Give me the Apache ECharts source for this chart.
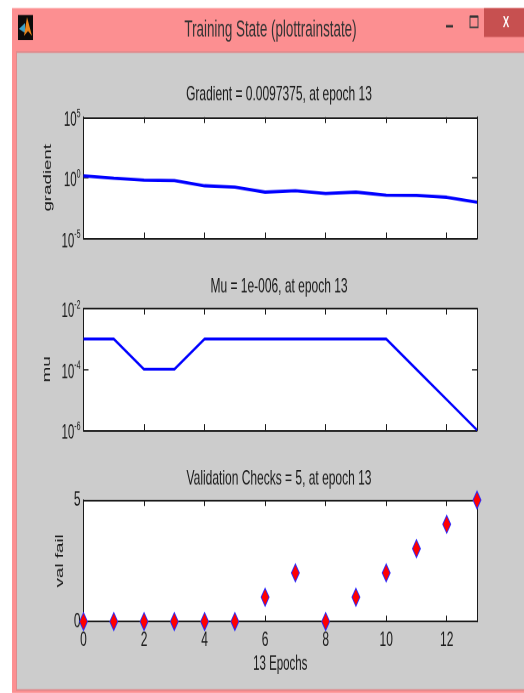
<!DOCTYPE html>
<html><head><meta charset="utf-8">
<style>html,body{margin:0;padding:0;background:#fff;overflow:hidden;width:524px;height:693px}
#c{width:524px;height:407.65px;transform:scaleY(1.7);transform-origin:0 0}</style>
<script src="https://cdn.jsdelivr.net/npm/echarts@6/dist/echarts.min.js"></script></head>
<body><div id="c"></div>
<script>
const epochs = [0,1,2,3,4,5,6,7,8,9,10,11,12,13];
const gradient = [1.45,0.93,0.65,0.6,0.22,0.17,0.066,0.085,0.051,0.066,0.037,0.035,0.025,0.0097375];
const mu = [1e-3,1e-3,1e-4,1e-4,1e-3,1e-3,1e-3,1e-3,1e-3,1e-3,1e-3,1e-4,1e-5,1e-6];
const valFail = [0,0,0,0,0,0,1,2,0,1,2,3,4,5];
const xTickLabels = [0,2,4,6,8,10,12];
const titles = ['Gradient = 0.0097375, at epoch 13','Mu = 1e-006, at epoch 13','Validation Checks = 5, at epoch 13'];
const yNames = ['gradient','mu','val fail'];
const windowTitle = 'Training State (plottrainstate)';
const xName = '13 Epochs';

const k = 1.7, Y = v => v / k;
const fam = '"Liberation Sans",Arial,sans-serif';
const dark = '#1a1a1a';
const tops = [117,308.5,500];
const h = Y(121.5), left = 83.5, w = 393.5;
const chart = echarts.init(document.getElementById('c'),null,{renderer:'canvas',devicePixelRatio:2});
const pair = v => epochs.map((e,i)=>[e,v[i]]);
const tickStyle = {show:true,inside:true,length:3.5,lineStyle:{color:dark,width:1}};
const ySideTick = {show:true,inside:true,length:5,lineStyle:{color:dark,width:0.8}};
const lineStyle = {show:true,onZero:false,lineStyle:{color:dark,width:1}};
const grids=[],xAxes=[],yAxes=[],series=[];
tops.forEach((t,i)=>{
  grids.push({left,top:Y(t),width:w,height:h,show:true,backgroundColor:'#fff',borderWidth:0});
  const last=i===2;
  xAxes.push({gridIndex:i,type:'value',min:0,max:13,interval:2,position:'bottom',splitLine:{show:false},axisLine:lineStyle,axisTick:tickStyle,
    name:last?xName:'',nameLocation:'middle',nameGap:25,nameMoveOverlap:false,nameTextStyle:{fontFamily:fam,fontSize:11.5,color:dark,verticalAlign:'middle'},
    axisLabel:{show:last,margin:5,fontFamily:fam,fontSize:12,color:dark,formatter:v=>xTickLabels.includes(v)?String(v):''}});
  xAxes.push({gridIndex:i,type:'value',min:0,max:13,interval:2,position:'top',splitLine:{show:false},axisLine:lineStyle,axisTick:tickStyle,axisLabel:{show:false}});
  const xi=i*2, yi=i*2;
  const sup=e=>`{b|10}{s|${e}}`;
  const logCfg=(lo,hi,step)=>({type:'log',min:Math.pow(10,lo),max:Math.pow(10,hi),interval:step,fmt:v=>sup(Math.round(Math.log10(v)))});
  const cfg = i===0?logCfg(-5,5,5):i===1?logCfg(-6,-2,2):{type:'value',min:0,max:5,interval:5,fmt:v=>String(v)};
  const rich={b:{fontFamily:fam,fontSize:11.5,color:dark,padding:[4,0,0,0]},s:{fontFamily:fam,fontSize:7,color:dark,padding:[0,0,4,0]}};
  const base={gridIndex:i,type:cfg.type,min:cfg.min,max:cfg.max,interval:cfg.interval,splitLine:{show:false},axisLine:lineStyle};
  if(cfg.type==='log') base.logBase=10;
  yAxes.push(Object.assign({},base,{position:'left',axisTick:i===2?{show:false}:ySideTick,
    name:yNames[i],nameLocation:'middle',nameRotate:90,nameGap:[30,31,18][i],nameMoveOverlap:false,
    nameTextStyle:{fontFamily:fam,fontSize:11,color:dark},
    axisLabel:{margin:3,fontFamily:fam,fontSize:12,color:dark,formatter:cfg.fmt,rich}}));
  yAxes.push(Object.assign({},base,{position:'right',axisTick:i===2?{show:false}:ySideTick,axisLabel:{show:false}}));
  if(i<2){
    series.push({type:'line',xAxisIndex:xi,yAxisIndex:yi,data:pair(i===0?gradient:mu),showSymbol:false,symbol:'none',clip:false,
      lineStyle:{color:'#0000ff',width:i===0?1.9:1.7},z:5});
  } else {
    series.push({type:'scatter',xAxisIndex:xi,yAxisIndex:yi,data:pair(valFail),symbol:'diamond',symbolSize:[8,10.5],clip:false,
      itemStyle:{color:'#ff0000',borderColor:'#2a2aff',borderWidth:0.8,opacity:1},z:5});
  }
});
const chrome=[
 {type:'rect',z:-10,shape:{x:12,y:Y(8),width:512,height:Y(685)},style:{fill:'#fc8f91'}},
 {type:'rect',z:-9,shape:{x:16.5,y:Y(52),width:508,height:Y(638)},style:{fill:'#cccccc',stroke:'#e08a8c',lineWidth:1}},
 {type:'rect',z:-8,shape:{x:484,y:Y(8),width:40,height:Y(29)},style:{fill:'#c75050'}},
 {type:'text',z:-8,style:{x:506,y:Y(23),text:'X',fill:'#fff',font:'bold 9.5px '+fam,align:'center',verticalAlign:'middle'}},
 {type:'rect',z:-8,shape:{x:446,y:Y(25),width:7,height:Y(2.5)},style:{fill:'#333'}},
 {type:'rect',z:-8,shape:{x:470,y:Y(16.5),width:8,height:Y(11)},style:{fill:'none',stroke:'#444',lineWidth:1}},
 {type:'rect',z:-8,shape:{x:470,y:Y(15.5),width:8,height:Y(2)},style:{fill:'#333'}},
 {type:'rect',z:-8,shape:{x:18,y:Y(15),width:15,height:Y(25)},style:{fill:'#0a0a0a'}},
 {type:'polygon',z:-7,shape:{points:[[19,Y(29)],[25,Y(23)],[25,Y(33)]]},style:{fill:'#3aa0c8'}},
 {type:'polygon',z:-7,shape:{points:[[27,Y(17)],[32,Y(36)],[28,Y(31)],[24,Y(36)]]},style:{fill:'#e8851c'}},
 {type:'text',z:-8,style:{x:270.5,y:Y(30),text:windowTitle,fill:'#333',font:'13.4px '+fam,align:'center',verticalAlign:'middle'}}
];
chart.setOption({
 animation:false,backgroundColor:'#fff',
 title:titles.map((t,i)=>({text:t,left:279,textAlign:'center',textVerticalAlign:'middle',top:Y([94.5,286.5,478.5][i]),padding:0,textStyle:{fontFamily:fam,fontSize:12,fontWeight:'normal',color:dark}})),
 grid:grids,xAxis:xAxes,yAxis:yAxes,series,graphic:chrome
});
</script></body></html>
